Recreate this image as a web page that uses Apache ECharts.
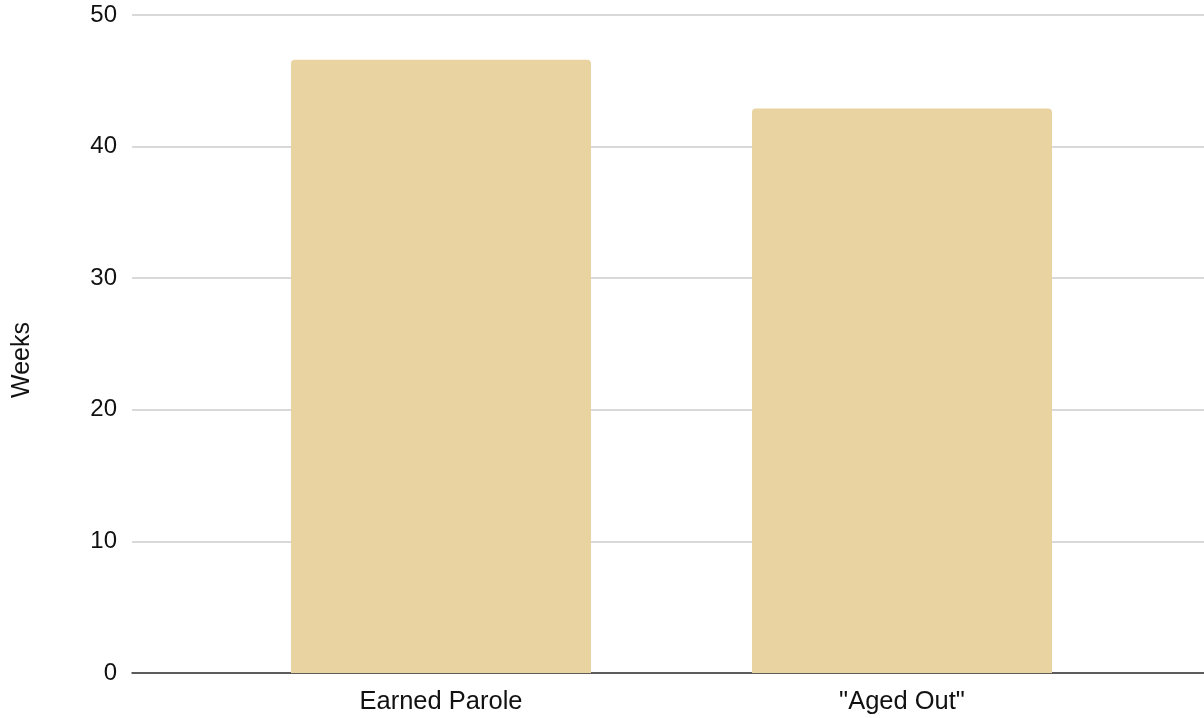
<!DOCTYPE html>
<html><head><meta charset="utf-8">
<script src="https://cdn.jsdelivr.net/npm/echarts@6/dist/echarts.min.js"></script>
<style>html,body{margin:0;padding:0;background:#fff}#c{width:1204px;height:718px}</style>
</head><body><div id="c"></div>
<script>
const categories = ['Earned Parole', '"Aged Out"'];
const weeks = [46.6, 42.9];
const yTicks = { min: 0, max: 50, interval: 10 };

const font = 'Liberation Sans, Arial, sans-serif';
const chart = echarts.init(document.getElementById('c'));
chart.setOption({
  animation: false,
  grid: [
    { left: 132, right: 0, top: 15, bottom: 45 },
    { left: 210.5, right: 71.5, top: 15, bottom: 45 }
  ],
  xAxis: [
    { gridIndex: 0, type: 'category', data: [''], axisLine: { show: true, lineStyle: { color: '#333', width: 1.5 } },
      axisTick: { show: false }, axisLabel: { show: false } },
    { gridIndex: 1, type: 'category', data: categories, axisLine: { show: false }, axisTick: { show: false },
      axisLabel: { color: '#111', fontSize: 25.5, fontFamily: font, margin: 16 } }
  ],
  yAxis: [
    { gridIndex: 0, type: 'value', min: yTicks.min, max: yTicks.max, interval: yTicks.interval,
      name: 'Weeks', nameLocation: 'middle', nameGap: 97, nameRotate: 90,
      nameTextStyle: { color: '#111', fontSize: 25, fontFamily: font, padding: [0, 32, 0, 0] },
      axisLine: { show: false }, axisTick: { show: false },
      axisLabel: { color: '#111', fontSize: 24, fontFamily: font, margin: 15 },
      splitLine: { lineStyle: { color: '#cccccc', width: 1.5 } } },
    { gridIndex: 1, type: 'value', min: yTicks.min, max: yTicks.max, interval: yTicks.interval,
      show: false, splitLine: { show: false } }
  ],
  series: [{
    type: 'bar', xAxisIndex: 1, yAxisIndex: 1, data: weeks, barWidth: 300,
    itemStyle: { color: '#e9d3a1', borderRadius: [4, 4, 0, 0] }, z: 1
  }]
});
</script></body></html>
